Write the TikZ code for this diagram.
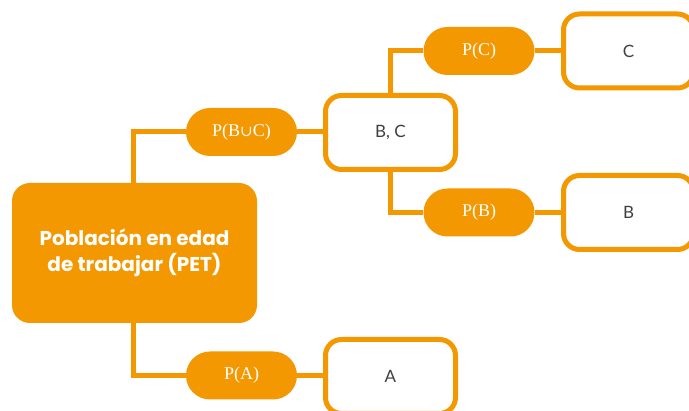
\documentclass[tikz,border=0pt]{standalone}
\usepackage{fontspec}
\setmainfont{Liberation Serif}
\setsansfont{Poppins}
\newfontfamily\labelfont{Lato}
\newfontfamily\symbfont{DejaVu Serif}
\definecolor{naranja}{HTML}{F39800}
\definecolor{texto}{HTML}{404040}
\begin{document}
\begin{tikzpicture}[x=1pt,y=-1pt,
  link/.style={draw=naranja,line width=5pt},
  pet/.style={fill=naranja,rounded corners=18pt,minimum width=245pt,minimum height=140pt,
    inner sep=0pt,align=center,text=white,font=\sffamily\bfseries\fontsize{20}{26}\selectfont},
  prob/.style={fill=naranja,rounded corners=24pt,minimum width=111pt,minimum height=48pt,
    inner sep=0pt,text=white,font=\rmfamily\fontsize{18}{20}\selectfont},
  evento/.style={draw=naranja,fill=white,line width=5pt,rounded corners=16pt,minimum width=130pt,
    minimum height=74pt,inner sep=0pt,text=texto,font=\labelfont\fontsize{17}{20}\selectfont}]
\useasboundingbox (0,0) rectangle (689,411);
% root and first-level probabilities
\node[pet] (pet) at (134.5,253) {Población en edad\\de trabajar (PET)};
\node[prob] (pbc) at (241.5,132) {P(B{\symbfont\fontsize{15}{18}\selectfont ∪}C)};
\node[prob] (pa) at (241.5,375.5) {P(A)};
% second level
\node[prob] (pc) at (479,51) {P(C)};
\node[prob] (pb) at (479,212.5) {P(B)};
% connectors behind the event boxes
\draw[link] (pet.north -| 133,0) |- (pbc.west);
\draw[link] (pet.south -| 133,0) |- (pa.west);
\node[evento] (bc) at (390.5,132.5) {B, C};
\node[evento] (c) at (628.5,51) {C};
\node[evento] (b) at (628.5,212.5) {B};
\node[evento] (a) at (390.5,376.5) {A};
\draw[link] (pbc.east) -- (pbc.east -| bc.west);
\draw[link] (bc.north) |- (pc.west);
\draw[link] (bc.south) |- (pb.west);
\draw[link] (pc.east) -- (c.west);
\draw[link] (pb.east) -- (b.west);
\draw[link] (pa.east) -- (pa.east -| a.west);
\end{tikzpicture}
\end{document}
